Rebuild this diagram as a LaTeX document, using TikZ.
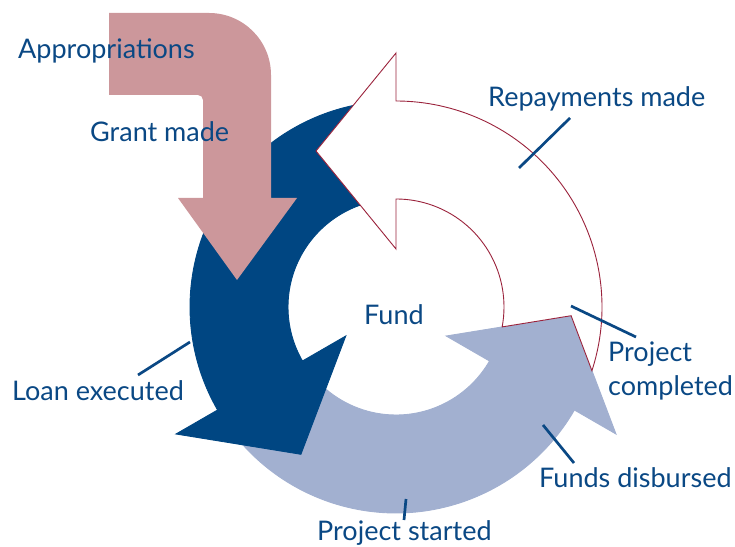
\documentclass[tikz,border=0pt]{standalone}
\usepackage{fontspec}
\setmainfont{Lato}
\definecolor{fundblue}{RGB}{0,70,130}
\definecolor{paleblue}{RGB}{162,176,208}
\definecolor{grantpink}{RGB}{204,151,155}
\definecolor{repayred}{RGB}{155,35,60}
\definecolor{labelblue}{RGB}{10,72,132}

\begin{document}
\begin{tikzpicture}[x=1pt, y=1pt,
    lbl/.style={text=labelblue, font=\fontsize{27}{34}\selectfont, inner sep=0pt, anchor=base west},
    leader/.style={draw=labelblue, line width=2.7}]
    \useasboundingbox (0,0) rectangle (735,546);
    % three ring arrows, each tail notched round the head before it
    \foreach\rot/\col/\edge in {240/paleblue/paleblue, 120/fundblue/fundblue, 0/white/repayred}
    {
      \begin{scope}[shift={(396,239)}, rotate=\rot]
        \filldraw[fill=\col, draw=\edge, line width=0.9]
            (-10.63:108) -- (-2.85:175.32) -- (-18:206)
            arc[start angle=-18, end angle=90, radius=206]
            -- (90:254) -- (117.15:175.32) -- (90:58) -- (90:108)
            arc[start angle=90, end angle=-10.63, radius=108] -- cycle;
      \end{scope}
    }
    % bent grant arrow coming down from the top
    \fill[grantpink] (109,533) -- (209,533) arc[start angle=90, end angle=0, radius=62]
        -- (271,348) -- (297,348) -- (237,266) -- (178,348) -- (203,348) -- (203,446)
        arc[start angle=0, end angle=90, radius=5] -- (109,451) -- cycle;

    \node[lbl] (approp)    at (18,487)  {Appropriations};
    \node[lbl] (grant)     at (90,404)  {Grant made};
    \node[lbl] (repay)     at (488,439) {Repayments made};
    \node[lbl] (fund)      at (364,221) {Fund};
    \node[lbl, align=left] (completed) at (608,150) {Project\\completed};
    \node[lbl] (disbursed) at (539,59)  {Funds disbursed};
    \node[lbl] (loan)      at (12,146)  {Loan executed};
    \node[lbl] (started)   at (317,6)   {Project started};

    % leader lines
    \coordinate (repay-a)     at (570,428); \coordinate (repay-b)     at (519,378);
    \coordinate (completed-a) at (636,209); \coordinate (completed-b) at (571,240);
    \coordinate (disbursed-a) at (574,83);  \coordinate (disbursed-b) at (543,121);
    \coordinate (loan-a)      at (138,171); \coordinate (loan-b)      at (190,204);
    \coordinate (started-a)   at (404,26);  \coordinate (started-b)   at (406,47);
    \foreach\n in {repay, completed, disbursed, loan, started}
        \draw[leader] (\n-a) -- (\n-b);
\end{tikzpicture}
\end{document}
